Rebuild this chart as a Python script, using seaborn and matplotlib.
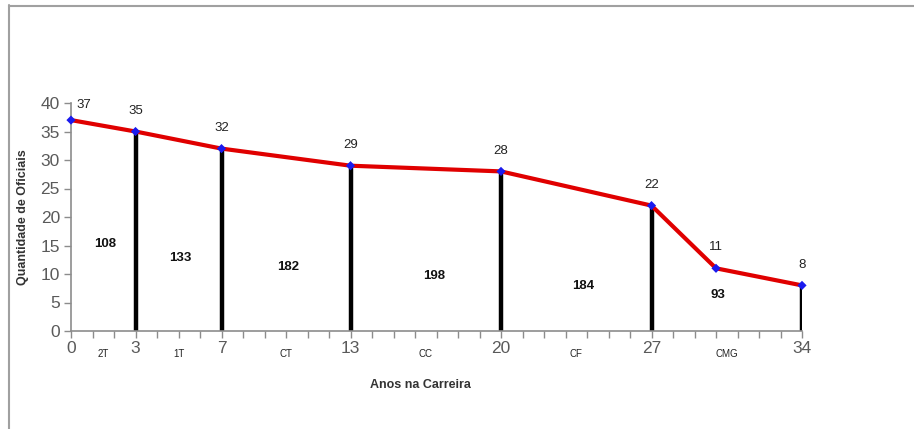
import matplotlib
matplotlib.use("Agg")
import matplotlib.pyplot as plt
import matplotlib.transforms as mtransforms
from matplotlib.lines import Line2D
import seaborn as sns
import pandas as pd

# Career curve: officers remaining at each point of the career
years = [0, 3, 7, 13, 20, 27, 30, 34]
officers = [37, 35, 32, 29, 28, 22, 11, 8]

# Promotion boundaries (years) drawn as vertical bars
boundaries = [3, 7, 13, 20, 27, 34]

# Posts between boundaries and total officers in each post
posts = ["2T", "1T", "CT", "CC", "CF", "CMG"]
post_centers = [1.5, 5, 10, 16.5, 23.5, 30.5]
post_totals = [108, 133, 182, 198, 184, 93]

labeled_years = [0, 3, 7, 13, 20, 27, 34]

# Layout for the post totals (vertical placement inside each band)
total_label_x = [1.6, 5.1, 10.1, 16.9, 23.8, 30.1]
total_label_y = [15.2, 12.8, 11.2, 9.6, 7.9, 6.3]

sns.set_theme(style="white")
plt.rcParams["font.family"] = ["Liberation Sans", "DejaVu Sans"]

df = pd.DataFrame({"ano": years, "oficiais": officers})
height_of = dict(zip(years, officers))

fig = plt.figure(figsize=(9.14, 4.29), dpi=100)
ax = fig.add_axes([71 / 914, 1 - 331 / 429, (802 - 71) / 914, (331 - 103) / 429])

# Vertical bars at each promotion boundary
ax.vlines(boundaries, 0, [height_of[b] for b in boundaries],
          colors="black", linewidth=3.2, zorder=2)

sns.lineplot(data=df, x="ano", y="oficiais", color="#e00000", linewidth=3,
             ax=ax, zorder=3)
sns.scatterplot(data=df, x="ano", y="oficiais", marker="D", color="#1a1aee",
                s=22, edgecolor="none", ax=ax, zorder=4, clip_on=False)

# Value labels above each point
for x, y in zip(years, officers):
    dx = 0.6 if x == 0 else 0.0
    dy = 1.6 if x == 0 else 2.6
    ax.text(x + dx, y + dy, f"{y}", ha="center", va="bottom", fontsize=9.5,
            color="#222222")

# Totals per post
for x, y, t in zip(total_label_x, total_label_y, post_totals):
    ax.text(x, y, f"{t}", ha="center", va="center", fontsize=9.5,
            fontweight="bold", color="#111111")

ax.set_xlim(0, 34)
ax.set_ylim(0, 40)
ax.set_yticks(range(0, 41, 5))
ax.set_xticks(range(0, 35))
ax.set_xticklabels([str(v) if v in labeled_years else "" for v in range(0, 35)])
ax.tick_params(axis="both", which="major", direction="out", length=5,
               width=1, color="#8c8c8c", labelsize=12.5, labelcolor="#5a5a5a",
               bottom=True, left=True, pad=3)
ax.tick_params(axis="x", pad=2)

# Post names under the axis between the year labels
trans = mtransforms.blended_transform_factory(ax.transData, ax.transAxes)
for c, p in zip(post_centers, posts):
    ax.text(c, -0.102, p, transform=trans, ha="center", va="center",
            fontsize=7, color="#222222")

for side in ["top", "right"]:
    ax.spines[side].set_visible(False)
for side in ["left", "bottom"]:
    ax.spines[side].set_color("#8c8c8c")
    ax.spines[side].set_linewidth(1.2)

ax.set_xlabel("Anos na Carreira", fontsize=9, fontweight="bold",
              color="#333333")
ax.set_ylabel("Quantidade de Oficiais", fontsize=9, fontweight="bold",
              color="#333333")
ax.xaxis.set_label_coords(0.478, -0.21)
ax.yaxis.set_label_coords(-0.057, 0.5)

# Outer frame of the chart area
fig.add_artist(Line2D([8.5 / 914, 8.5 / 914], [0, 1 - 5 / 429],
                      transform=fig.transFigure, color="#a0a0a0", linewidth=1.5))
fig.add_artist(Line2D([8.5 / 914, 1], [1 - 5.5 / 429, 1 - 5.5 / 429],
                      transform=fig.transFigure, color="#a0a0a0", linewidth=1.5))

fig.savefig("out.png", dpi=100, facecolor="white")
